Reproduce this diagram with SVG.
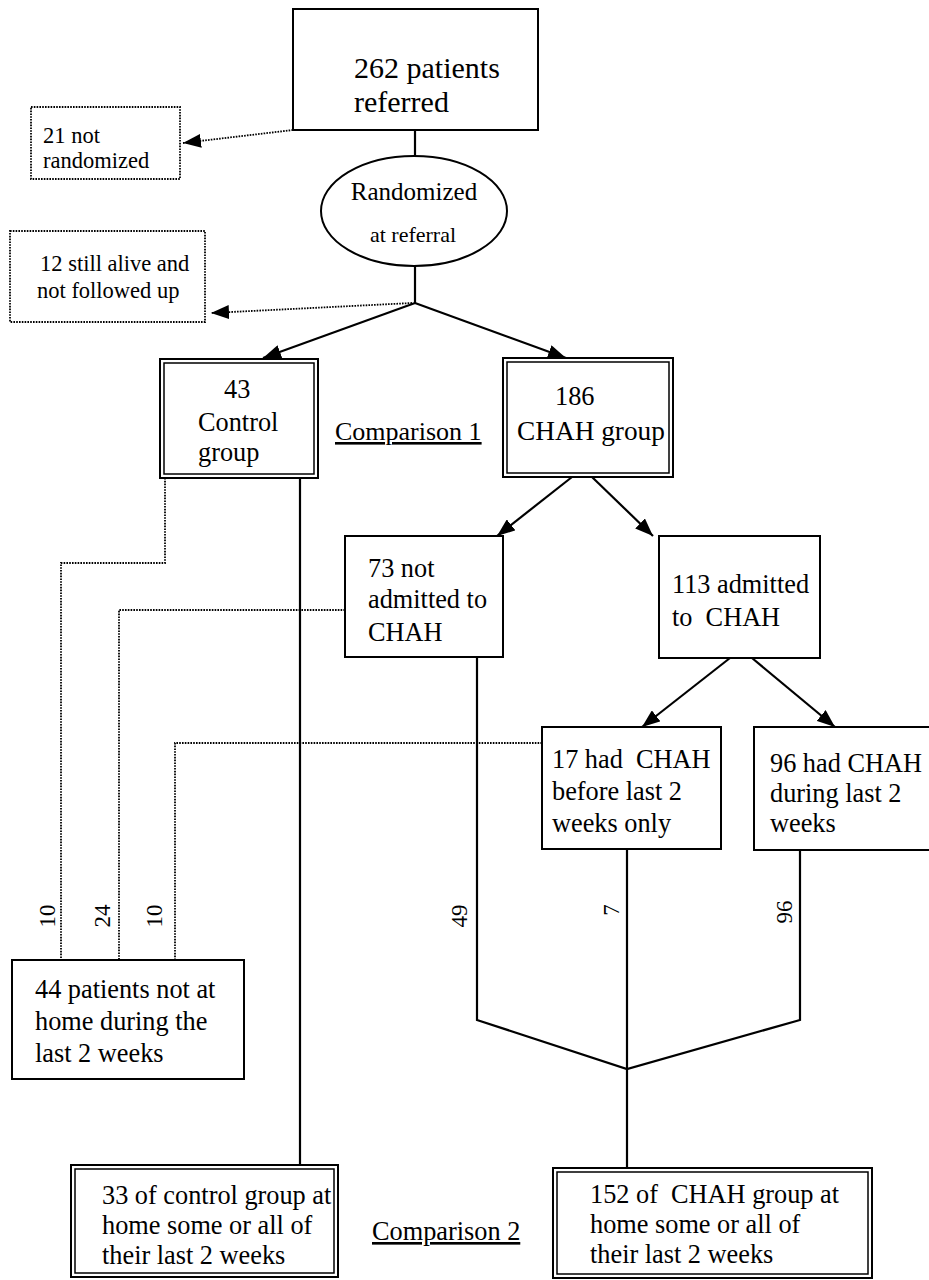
<svg xmlns="http://www.w3.org/2000/svg" width="929" height="1280" viewBox="0 0 929 1280" font-family="'Liberation Serif', 'DejaVu Serif', 'Times New Roman', serif">
<style>
text{font-family:'Liberation Serif','DejaVu Serif','Times New Roman',serif;fill:#000;white-space:pre}
.b{fill:#fff;stroke:#000;stroke-width:2}
.d{fill:#fff;stroke:#000;stroke-width:1.8;stroke-dasharray:1.6 1.2}
.in{fill:none;stroke:#000;stroke-width:1.5}
.l{fill:none;stroke:#000;stroke-width:2.2}
.dl{fill:none;stroke:#000;stroke-width:1.8;stroke-dasharray:1.6 1.2}
.t26{font-size:26.3px}
.t22{font-size:22.5px}
.lab{font-size:23px}
</style>
<defs>
<marker id="ah" viewBox="0 0 18 14" refX="18" refY="7" markerWidth="18" markerHeight="14" orient="auto" markerUnits="userSpaceOnUse"><path d="M0,0 L18,7 L0,14 z" fill="#000"/></marker>
</defs>
<rect width="929" height="1280" fill="#fff"/>
<g id="connectors">
<line class="l" x1="415" y1="130" x2="415" y2="156"/>
<line class="l" x1="415" y1="266" x2="415" y2="303"/>
<line class="l" x1="415" y1="303" x2="263" y2="358" marker-end="url(#ah)"/>
<line class="l" x1="415" y1="303" x2="566" y2="358" marker-end="url(#ah)"/>
<line class="dl" x1="293" y1="130" x2="183" y2="143" marker-end="url(#ah)"/>
<line class="dl" x1="412" y1="303" x2="211" y2="313" marker-end="url(#ah)"/>
<line class="l" x1="572" y1="477" x2="497" y2="536" marker-end="url(#ah)"/>
<line class="l" x1="592" y1="477" x2="653" y2="536" marker-end="url(#ah)"/>
<line class="l" x1="730" y1="658" x2="642" y2="727" marker-end="url(#ah)"/>
<line class="l" x1="752" y1="658" x2="835" y2="727" marker-end="url(#ah)"/>
<line class="l" x1="300" y1="478" x2="300" y2="1165"/>
<polyline class="l" points="477,657 477,1020 627,1069 800,1020 800,850"/>
<line class="l" x1="627" y1="849" x2="627" y2="1168"/>
<polyline class="dl" points="165,478 165,563 61,563 61,960"/>
<polyline class="dl" points="345,610 119,610 119,960"/>
<polyline class="dl" points="542,743 175,743 175,960"/>
<text class="lab" transform="translate(55,916) rotate(-90)" text-anchor="middle">10</text>
<text class="lab" transform="translate(110,916) rotate(-90)" text-anchor="middle">24</text>
<text class="lab" transform="translate(162,916) rotate(-90)" text-anchor="middle">10</text>
<text class="lab" transform="translate(467,916) rotate(-90)" text-anchor="middle">49</text>
<text class="lab" transform="translate(619,910) rotate(-90)" text-anchor="middle">7</text>
<text class="lab" transform="translate(792,912) rotate(-90)" text-anchor="middle">96</text>
</g>
<g id="referred">
<rect class="b" x="293" y="9" width="245" height="121"/>
<text x="354" y="78" style="font-size:30px">262 patients</text>
<text x="354" y="112" style="font-size:30px">referred</text>
</g>
<g id="not-randomized">
<rect class="d" x="31" y="107" width="149" height="72"/>
<text class="t22" x="43" y="143">21 not</text>
<text class="t22" x="43" y="168">randomized</text>
</g>
<g id="randomized">
<ellipse class="b" cx="414" cy="211" rx="93" ry="55"/>
<text x="414" y="200" text-anchor="middle" style="font-size:25px">Randomized</text>
<text x="413" y="242" text-anchor="middle" style="font-size:22px">at referral</text>
</g>
<g id="not-followed">
<rect class="d" x="10" y="231" width="195" height="91"/>
<text class="t22" x="40" y="271">12 still alive and</text>
<text class="t22" x="37" y="298">not followed up</text>
</g>
<g id="control">
<rect class="b" x="160" y="359" width="158" height="119"/>
<rect class="in" x="164" y="363" width="150" height="111"/>
<text class="t26" x="224" y="398">43</text>
<text class="t26" x="198" y="431">Control</text>
<text class="t26" x="198" y="461">group</text>
</g>
<g id="comparison1">
<text x="335" y="440" style="font-size:26px" text-decoration="underline">Comparison 1</text>
</g>
<g id="chah">
<rect class="b" x="503" y="358" width="170" height="119"/>
<rect class="in" x="507" y="362" width="162" height="111"/>
<text class="t26" x="555" y="405">186</text>
<text x="517" y="440" style="font-size:27.3px">CHAH group</text>
</g>
<g id="not-admitted">
<rect class="b" x="345" y="536" width="158" height="121"/>
<text class="t26" x="368" y="577">73 not</text>
<text class="t26" x="368" y="608">admitted to</text>
<text class="t26" x="368" y="641">CHAH</text>
</g>
<g id="admitted">
<rect class="b" x="659" y="536" width="161" height="122"/>
<text class="t26" x="672" y="593">113 admitted</text>
<text class="t26" x="672" y="626">to  CHAH</text>
</g>
<g id="before">
<rect class="b" x="542" y="727" width="179" height="122"/>
<text class="t26" x="552" y="768">17 had  CHAH</text>
<text class="t26" x="552" y="800">before last 2</text>
<text class="t26" x="552" y="832">weeks only</text>
</g>
<g id="during">
<rect class="b" x="754" y="727" width="185" height="123"/>
<text class="t26" x="770" y="772">96 had CHAH</text>
<text class="t26" x="770" y="802">during last 2</text>
<text class="t26" x="770" y="832">weeks</text>
</g>
<g id="not-home">
<rect class="b" x="12" y="960" width="232" height="119"/>
<text class="t26" x="35" y="998">44 patients not at</text>
<text class="t26" x="35" y="1030">home during the</text>
<text class="t26" x="35" y="1062">last 2 weeks</text>
</g>
<g id="control-home">
<rect class="b" x="71" y="1165" width="267" height="112"/>
<rect class="in" x="75" y="1169" width="259" height="104"/>
<text class="t26" x="102" y="1204">33 of control group at</text>
<text class="t26" x="102" y="1234">home some or all of</text>
<text class="t26" x="102" y="1264">their last 2 weeks</text>
</g>
<g id="comparison2">
<text class="t26" x="372" y="1240" text-decoration="underline">Comparison 2</text>
</g>
<g id="chah-home">
<rect class="b" x="553" y="1168" width="319" height="110"/>
<rect class="in" x="557" y="1172" width="311" height="102"/>
<text class="t26" x="590" y="1203">152 of  CHAH group at</text>
<text class="t26" x="590" y="1233">home some or all of</text>
<text class="t26" x="590" y="1263">their last 2 weeks</text>
</g>
</svg>
